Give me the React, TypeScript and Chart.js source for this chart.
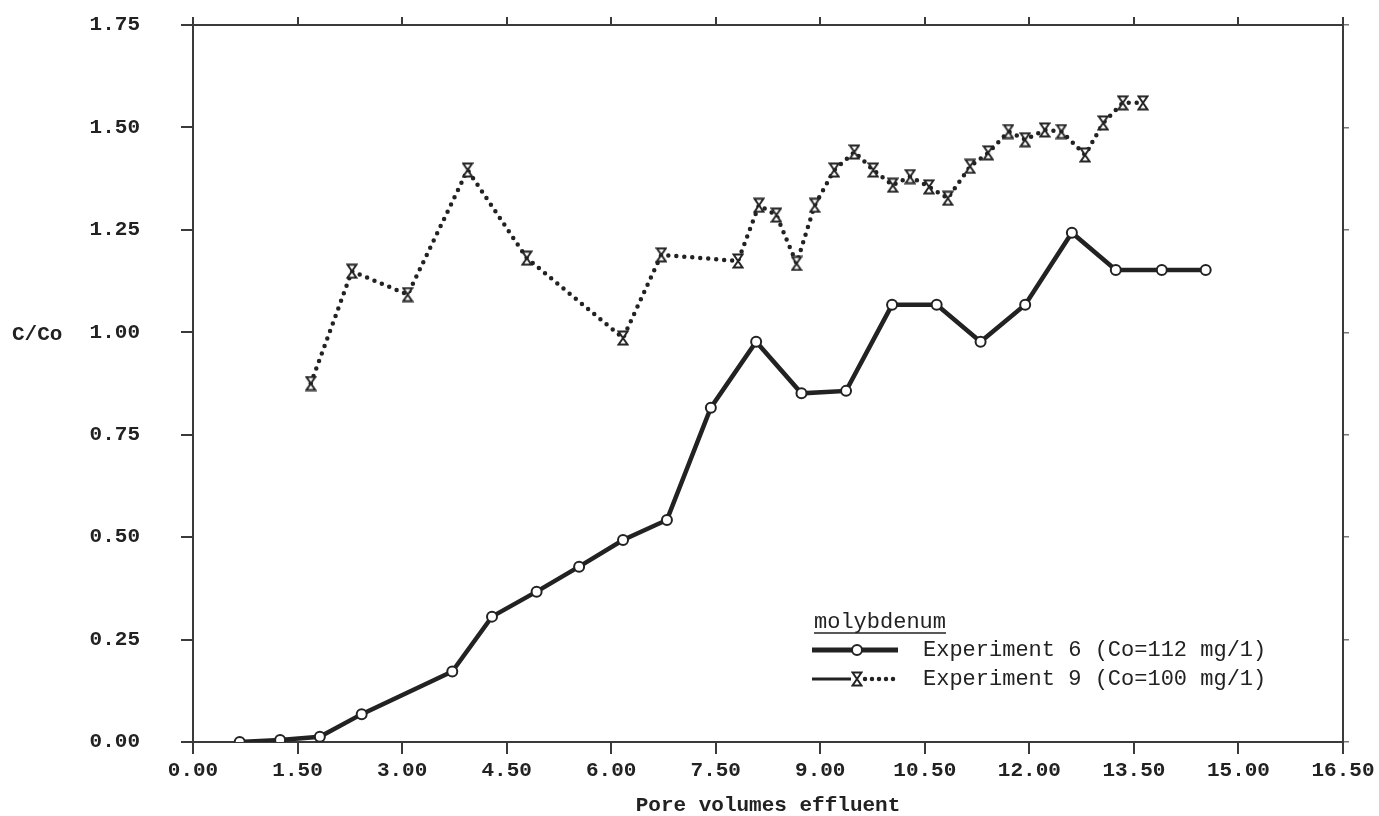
import React, { useEffect, useRef } from "react";
import { Chart, registerables } from "chart.js";

Chart.register(...registerables);

// ---- data ----
const exp6X = [0.67, 1.25, 1.82, 2.42, 3.72, 4.29, 4.93, 5.54, 6.17, 6.8, 7.43, 8.08, 8.73, 9.37, 10.03, 10.67, 11.3, 11.94, 12.61, 13.24, 13.9, 14.53];
const exp6Y = [0.0, 0.005, 0.013, 0.068, 0.172, 0.306, 0.367, 0.428, 0.493, 0.542, 0.816, 0.977, 0.851, 0.857, 1.067, 1.067, 0.977, 1.067, 1.243, 1.152, 1.152, 1.152];

const exp9X = [1.69, 2.28, 3.08, 3.94, 4.79, 6.17, 6.72, 7.82, 8.12, 8.37, 8.66, 8.92, 9.2, 9.49, 9.76, 10.04, 10.29, 10.56, 10.83, 11.15, 11.41, 11.7, 11.94, 12.22, 12.46, 12.8, 13.06, 13.34, 13.63];
const exp9Y = [0.875, 1.149, 1.092, 1.396, 1.181, 0.986, 1.189, 1.174, 1.31, 1.286, 1.168, 1.31, 1.396, 1.44, 1.396, 1.359, 1.38, 1.355, 1.327, 1.405, 1.438, 1.49, 1.47, 1.494, 1.49, 1.433, 1.511, 1.56, 1.56];

const seriesLabels = ["Experiment 6 (Co=112 mg/1)", "Experiment 9 (Co=100 mg/1)"];
const legendTitle = "molybdenum";
const xTitle = "Pore volumes effluent";
const yTitle = "C/Co";
const xRange = [0, 16.5];
const yRange = [0, 1.75];
const xStep = 1.5;
const yStep = 0.25;

const INK = "#222222";
const AXIS = "#3a3a3a";
const FONT = '"Liberation Mono", "DejaVu Sans Mono", monospace';

function makeHourglass(): HTMLCanvasElement {
  const c = document.createElement("canvas");
  c.width = 12;
  c.height = 16;
  const g = c.getContext("2d")!;
  g.fillStyle = "#ffffff";
  g.strokeStyle = INK;
  g.lineWidth = 2;
  g.beginPath();
  g.moveTo(1.5, 1.5);
  g.lineTo(10.5, 1.5);
  g.lineTo(1.5, 14.5);
  g.lineTo(10.5, 14.5);
  g.closePath();
  g.fill();
  g.stroke();
  return c;
}

function stepTicks(lo: number, hi: number, step: number) {
  const t: { value: number }[] = [];
  for (let v = lo; v <= hi + 1e-9; v += step) t.push({ value: +v.toFixed(2) });
  return t;
}

export default function App() {
  const ref = useRef<HTMLCanvasElement>(null);

  useEffect(() => {
    const canvas = ref.current!;
    const hourglass = makeHourglass();

    const extras = {
      id: "extras",
      afterDraw(chart: any) {
        const ctx = chart.ctx as CanvasRenderingContext2D;
        const ys = chart.scales.y;
        ctx.save();
        // y-axis title, horizontal, at the 1.00 level
        ctx.font = `bold 21px ${FONT}`;
        ctx.fillStyle = INK;
        ctx.textAlign = "left";
        ctx.textBaseline = "middle";
        ctx.fillText(yTitle, 12, ys.getPixelForValue(1.0) + 2);

        // legend
        const lx = 812;
        const tx = 923;
        ctx.font = `22px ${FONT}`;
        ctx.fillText(legendTitle, lx + 2, 622);
        const tw = ctx.measureText(legendTitle).width;
        ctx.strokeStyle = INK;
        ctx.lineWidth = 1.6;
        ctx.beginPath();
        ctx.moveTo(lx + 2, 633);
        ctx.lineTo(lx + 2 + tw, 633);
        ctx.stroke();

        // row 1
        ctx.lineWidth = 5;
        ctx.lineCap = "butt";
        ctx.beginPath();
        ctx.moveTo(lx, 650);
        ctx.lineTo(898, 650);
        ctx.stroke();
        ctx.lineWidth = 2;
        ctx.fillStyle = "#ffffff";
        ctx.beginPath();
        ctx.arc(857, 650, 5, 0, Math.PI * 2);
        ctx.fill();
        ctx.stroke();
        ctx.fillStyle = INK;
        ctx.fillText(seriesLabels[0], tx, 650);

        // row 2
        ctx.lineWidth = 3;
        ctx.beginPath();
        ctx.moveTo(lx, 679);
        ctx.lineTo(851, 679);
        ctx.stroke();
        ctx.lineWidth = 4.5;
        ctx.lineCap = "round";
        ctx.setLineDash([0, 7]);
        ctx.beginPath();
        ctx.moveTo(865, 679);
        ctx.lineTo(898, 679);
        ctx.stroke();
        ctx.setLineDash([]);
        ctx.drawImage(hourglass, 851, 671);
        ctx.fillText(seriesLabels[1], tx, 679);
        ctx.restore();
      },
    };

    const tickFont = { family: FONT, size: 21, weight: "bold" as const };
    const fmt = (v: any) => Number(v).toFixed(2);

    const chart = new Chart(canvas, {
      type: "line",
      data: {
        datasets: [
          {
            label: seriesLabels[0],
            data: exp6X.map((x, i) => ({ x, y: exp6Y[i] })),
            borderColor: INK,
            borderWidth: 4.5,
            pointRadius: 5,
            pointBorderWidth: 2,
            pointBackgroundColor: "#ffffff",
            pointBorderColor: INK,
            tension: 0,
          },
          {
            label: seriesLabels[1],
            data: exp9X.map((x, i) => ({ x, y: exp9Y[i] })),
            borderColor: INK,
            borderWidth: 4.5,
            borderDash: [0, 8],
            borderCapStyle: "round",
            pointStyle: hourglass as any,
            pointRadius: 6,
            tension: 0,
          },
        ],
      },
      options: {
        responsive: false,
        animation: false,
        layout: { padding: 0 },
        plugins: {
          legend: { display: false },
          tooltip: { enabled: false },
        },
        scales: {
          x: {
            type: "linear",
            position: "bottom",
            min: xRange[0],
            max: xRange[1],
            afterFit: (s: any) => {
              s.height = 74;
              s.paddingLeft = 0;
              s.paddingRight = 0;
            },
            afterBuildTicks: (s: any) => {
              s.ticks = stepTicks(xRange[0], xRange[1], xStep);
            },
            ticks: { callback: fmt, font: tickFont, color: INK, padding: 4, maxRotation: 0, autoSkip: false },
            grid: { drawOnChartArea: false, drawTicks: true, tickLength: 12, color: AXIS, lineWidth: 2 },
            border: { display: true, color: AXIS, width: 2 },
            title: {
              display: true,
              text: xTitle,
              font: { family: FONT, size: 21, weight: "bold", lineHeight: 1 },
              color: INK,
              padding: 0,
            },
          },
          x2: {
            type: "linear",
            position: "top",
            display: true,
            min: xRange[0],
            max: xRange[1],
            afterFit: (s: any) => {
              s.height = 25;
              s.paddingLeft = 0;
              s.paddingRight = 0;
            },
            afterBuildTicks: (s: any) => {
              s.ticks = stepTicks(xRange[0], xRange[1], xStep);
            },
            ticks: { display: false },
            grid: { drawOnChartArea: false, drawTicks: true, tickLength: 8, color: AXIS, lineWidth: 2 },
            border: { display: true, color: AXIS, width: 2 },
          },
          y: {
            type: "linear",
            position: "left",
            min: yRange[0],
            max: yRange[1],
            afterFit: (s: any) => {
              s.width = 193;
              s.paddingTop = 10;
              s.paddingBottom = 10;
            },
            afterBuildTicks: (s: any) => {
              s.ticks = stepTicks(yRange[0], yRange[1], yStep);
            },
            ticks: { callback: fmt, font: tickFont, color: INK, padding: 41, autoSkip: false },
            grid: { drawOnChartArea: false, drawTicks: true, tickLength: 12, color: AXIS, lineWidth: 2 },
            border: { display: true, color: AXIS, width: 2 },
          },
          y2: {
            type: "linear",
            position: "right",
            display: true,
            min: yRange[0],
            max: yRange[1],
            afterFit: (s: any) => {
              s.width = 36;
              s.paddingTop = 0;
              s.paddingBottom = 0;
            },
            afterBuildTicks: (s: any) => {
              s.ticks = stepTicks(yRange[0], yRange[1], yStep);
            },
            ticks: { display: false },
            grid: { drawOnChartArea: false, drawTicks: true, tickLength: 6, color: "#777777", lineWidth: 1.5 },
            border: { display: true, color: AXIS, width: 2 },
          },
        },
      },
      plugins: [extras],
    } as any);

    return () => chart.destroy();
  }, []);

  return (
    <div style={{ position: "fixed", left: 0, top: 0, width: 1379, height: 816, background: "#ffffff" }}>
      <canvas ref={ref} width={1379} height={816} style={{ display: "block", width: 1379, height: 816 }} />
    </div>
  );
}
